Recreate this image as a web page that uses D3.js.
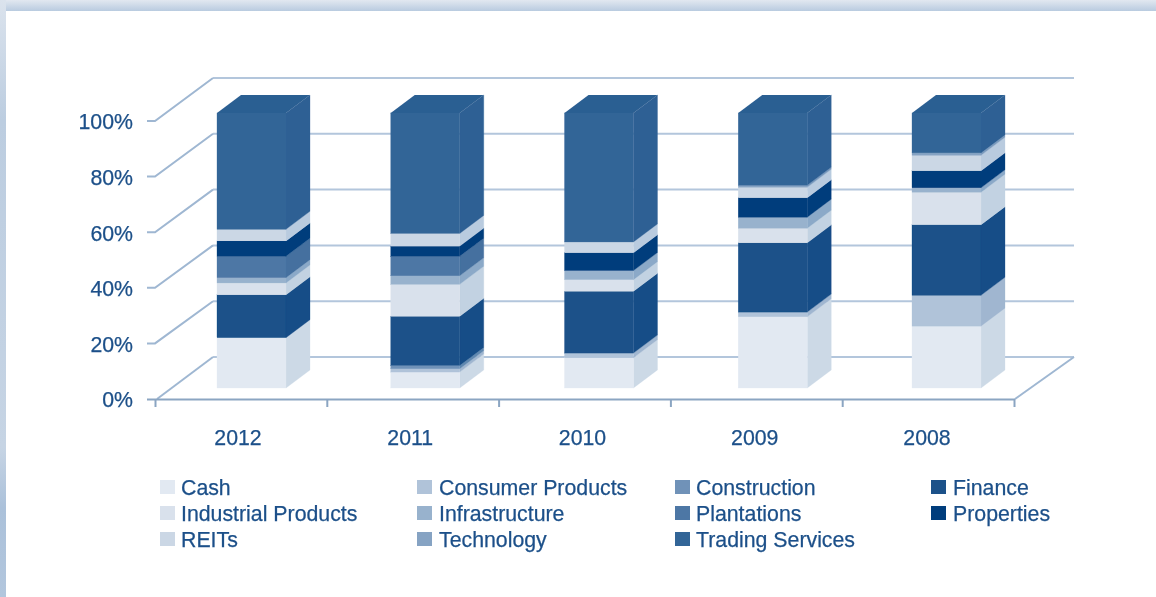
<!DOCTYPE html>
<html><head><meta charset="utf-8">
<script src="https://cdn.jsdelivr.net/npm/d3@7"></script>
<style>
html,body{margin:0;padding:0;background:#fff;overflow:hidden}
text{font-family:"Liberation Sans",Arial,sans-serif;fill:#1c5089;stroke:#1c5089;stroke-width:0.25px}
</style></head><body><div id="chart"></div>
<script>
const years=["2012","2011","2010","2009","2008"];
const sectors=["Cash","Consumer Products","Construction","Finance","Industrial Products","Infrastructure","Plantations","Properties","REITs","Technology","Trading Services"];
const cash=[18.3,5.8,11.0,25.9,22.5];
const consumerProducts=[0,1.2,1.7,1.7,11.2];
const construction=[0,1.2,0,0,0];
const finance=[15.6,17.9,22.5,25.2,25.7];
const industrialProducts=[4.3,11.6,4.2,5.3,11.8];
const infrastructure=[1.9,3.1,3.3,4.0,1.6];
const plantations=[7.8,7.1,0,0,0];
const properties=[5.6,3.7,6.5,7.1,6.2];
const reits=[4.2,4.6,3.9,3.8,5.6];
const technology=[0,0,0,0.7,0.9];
const tradingServices=[42.3,43.8,46.9,26.3,14.5];
const seriesValues=[cash,consumerProducts,construction,finance,industrialProducts,infrastructure,plantations,properties,reits,technology,tradingServices];
const frontColors=["#e2e9f2","#b0c3d9","#6f92b8","#1a5189","#d9e1ec","#98b2cd","#4d77a5","#023c7b","#cbd7e5","#86a3c3","#336597"];
const sideColors=["#ccd9e6","#a0b6d0","#6088b0","#184d87","#c2d2e2","#8ba9c8","#44709f","#033c7c","#b9cbdf","#7a9abd","#2e6094"];
const topColor="#2c5e92";
const yTicks=[0,20,40,60,80,100];
const legendOrder=[[0,4,8],[1,5,9],[2,6,10],[3,7]];
const legendSwatchX=[160,417,675,931], legendTextX=[181,439,696,953], legendRowY=[488,514,540];

const W=1156,H=597;
const svg=d3.select("#chart").append("svg").attr("width",W).attr("height",H).style("display","block");
const defs=svg.append("defs");
const g1=defs.append("linearGradient").attr("id","topBand").attr("x1",0).attr("x2",0).attr("y1",0).attr("y2",1);
g1.append("stop").attr("offset",0).attr("stop-color","#e2e8f0");
g1.append("stop").attr("offset",1).attr("stop-color","#b9cbe0");
const g2=defs.append("linearGradient").attr("id","leftBand").attr("x1",0).attr("x2",0).attr("y1",0).attr("y2",1);
g2.append("stop").attr("offset",0).attr("stop-color","#dbe3ed");
g2.append("stop").attr("offset",.2).attr("stop-color","#bccde0");
g2.append("stop").attr("offset",.75).attr("stop-color","#c6d4e4");
g2.append("stop").attr("offset",.85).attr("stop-color","#abc1da");
g2.append("stop").attr("offset",1).attr("stop-color","#b2c6dd");
defs.append("filter").attr("id","soft").append("feGaussianBlur").attr("stdDeviation",0.45);
svg.append("rect").attr("x",0).attr("y",0).attr("width",W).attr("height",11).attr("fill","url(#topBand)");
svg.append("rect").attr("x",0).attr("y",0).attr("width",6).attr("height",H).attr("fill","url(#leftBand)");

const root=svg.append("g").attr("filter","url(#soft)");
const yFront=d3.scaleLinear().domain([0,100]).range([399,121]);
const yBack=d3.scaleLinear().domain([0,100]).range([357,78]);
const yBar=d3.scaleLinear().domain([0,100]).range([388,113]);
const xBar=d3.scalePoint().domain(years).range([217,912]);
const xLabel=d3.scalePoint().domain(years).range([238,927]);
const xTick=d3.scaleLinear().domain([0,5]).range([155,1014]);
const barW=69,depthX=24,depthY=18;
const line=d3.line();

// walls
root.append("g").selectAll("path").data(yTicks).join("path")
  .attr("fill","none").attr("stroke","#b3c6dc").attr("stroke-width",2)
  .attr("d",t=>line([[213,yBack(t)],[1074,yBack(t)]]));
root.append("g").selectAll("path").data(yTicks).join("path")
  .attr("fill","none").attr("stroke","#9fb7d2").attr("stroke-width",2)
  .attr("d",t=>line(t===0?[[157,yFront(t)],[213,yBack(t)]]:[[147,yFront(t)],[155,yFront(t)],[213,yBack(t)]]));
root.append("path").attr("fill","none").attr("stroke","#9fb7d2").attr("stroke-width",2)
  .attr("d",line([[1015,399],[1074,357]]));

// y labels
root.append("g").selectAll("text").data(yTicks).join("text")
  .attr("x",133).attr("y",t=>yFront(t)+1).attr("dy","0.35em").attr("text-anchor","end")
  .attr("font-size",21.3).text(t=>t+"%");

// x axis
const axis=d3.axisBottom(xTick).ticks(5).tickSizeInner(8).tickSizeOuter(0).tickFormat("");
const ax=root.append("g").attr("transform","translate(0,399)").call(axis);
ax.selectAll("path,line").attr("stroke","#8ba5c2").attr("stroke-width",2);
ax.select(".domain").attr("d",line([[147,0.5],[1015,0.5]]));
root.append("g").selectAll("text").data(years).join("text")
  .attr("x",d=>xLabel(d)).attr("y",437.5).attr("dy","0.35em").attr("text-anchor","middle")
  .attr("font-size",21.3).text(d=>d);

// bars
const rows=years.map((y,i)=>{const o={year:y};sectors.forEach((s,k)=>o[s]=seriesValues[k][i]);return o;});
const stacked=d3.stack().keys(sectors)(rows);
const bars=root.append("g");
stacked.forEach((layer,k)=>{
  const g=bars.append("g");
  const live=layer.filter(d=>d[1]>d[0]);
  g.selectAll("path.side").data(live).join("path").attr("class","side")
    .attr("fill",sideColors[k]).attr("stroke",sideColors[k]).attr("stroke-width",0.3)
    .attr("d",d=>{const x=xBar(d.data.year)+barW;return line([[x,yBar(d[0])],[x+depthX,yBar(d[0])-depthY],[x+depthX,yBar(d[1])-depthY],[x,yBar(d[1])]])+"Z";});
  g.selectAll("rect").data(live).join("rect")
    .attr("x",d=>xBar(d.data.year)).attr("width",barW)
    .attr("y",d=>yBar(d[1])).attr("height",d=>yBar(d[0])-yBar(d[1]))
    .attr("fill",frontColors[k]).attr("stroke",frontColors[k]).attr("stroke-width",0.3);
});
bars.append("g").selectAll("path").data(years).join("path").attr("fill",topColor)
  .attr("d",y=>{const x=xBar(y),t=yBar(100);return line([[x,t],[x+depthX,t-depthY],[x+barW+depthX,t-depthY],[x+barW,t]])+"Z";});

// legend
const legend=root.append("g");
legendOrder.forEach((col,c)=>col.forEach((k,r)=>{
  legend.append("rect").attr("x",legendSwatchX[c]).attr("y",legendRowY[r]-8).attr("width",15).attr("height",14).attr("fill",frontColors[k]);
  legend.append("text").attr("x",legendTextX[c]).attr("y",legendRowY[r]).attr("dy","0.35em").attr("font-size",21.3).text(sectors[k]);
}));
</script></body></html>
